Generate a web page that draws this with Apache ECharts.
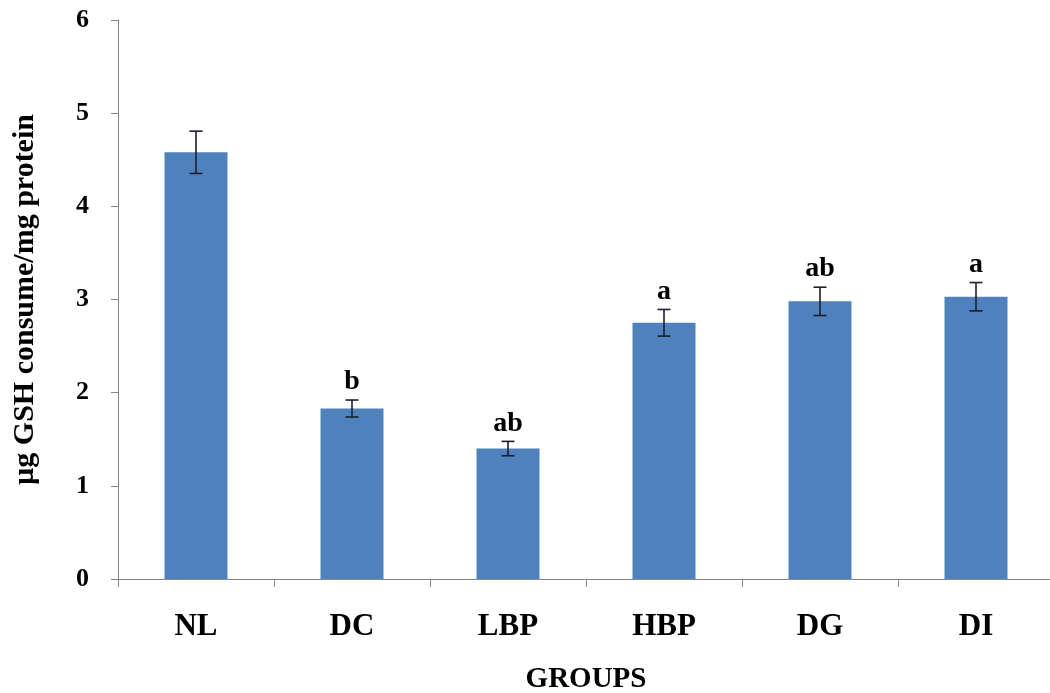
<!DOCTYPE html>
<html>
<head>
<meta charset="utf-8">
<script src="https://cdn.jsdelivr.net/npm/echarts@6/dist/echarts.min.js"></script>
<style>html,body{margin:0;padding:0;background:#fff}#c{width:1050px;height:693px}</style>
</head>
<body>
<div id="c"></div>
<script>
var categories = ['NL', 'DC', 'LBP', 'HBP', 'DG', 'DI'];
var values = [4.58, 1.83, 1.40, 2.75, 2.98, 3.03];
var errors = [0.227, 0.091, 0.077, 0.143, 0.152, 0.152];
var letters = ['', 'b', 'ab', 'a', 'ab', 'a'];
var yTicks = [0, 1, 2, 3, 4, 5, 6];

var FONT = '"Liberation Serif", "Times New Roman", serif';
var chart = echarts.init(document.getElementById('c'));
var errData = categories.map(function (c, i) { return [i, values[i], errors[i]]; });

chart.setOption({
  animation: false,
  backgroundColor: '#ffffff',
  grid: { left: 118, right: -4, top: 20, bottom: 114, containLabel: false, outerBoundsMode: 'none' },
  xAxis: {
    type: 'category',
    data: categories,
    boundaryGap: true,
    name: 'GROUPS',
    nameLocation: 'middle',
    nameGap: 86,
    nameTextStyle: { fontFamily: FONT, fontWeight: 'bold', fontSize: 29, color: '#000' },
    axisLine: { lineStyle: { color: '#868686', width: 1 } },
    axisTick: { show: true, alignWithLabel: false, length: 8, lineStyle: { color: '#868686' } },
    axisLabel: { fontFamily: FONT, fontWeight: 'bold', fontSize: 31, color: '#000', margin: 32 }
  },
  yAxis: {
    type: 'value',
    min: yTicks[0],
    max: yTicks[yTicks.length - 1],
    interval: 1,
    name: 'µg GSH consume/mg protein',
    nameLocation: 'middle',
    nameGap: 78,
    nameRotate: 90,
    nameTextStyle: { fontFamily: FONT, fontWeight: 'bold', fontSize: 30, color: '#000' },
    axisLine: { show: true, lineStyle: { color: '#868686', width: 1 } },
    axisTick: { show: true, length: 7, lineStyle: { color: '#868686' } },
    splitLine: { show: false },
    axisLabel: { fontFamily: FONT, fontWeight: 'bold', fontSize: 26, color: '#000', margin: 29 }
  },
  series: [
    {
      type: 'bar',
      data: values,
      barWidth: 63,
      itemStyle: { color: '#4F81BD' }
    },
    {
      type: 'custom',
      data: errData,
      z: 10,
      renderItem: function (params, api) {
        var i = api.value(0), v = api.value(1), e = api.value(2);
        var top = api.coord([i, v + e]);
        var bot = api.coord([i, v - e]);
        var x = top[0], hw = 6.5;
        var st = { stroke: '#1a1f2e', lineWidth: 1.6 };
        var children = [
          { type: 'line', shape: { x1: x, y1: top[1], x2: x, y2: bot[1] }, style: st },
          { type: 'line', shape: { x1: x - hw, y1: top[1], x2: x + hw, y2: top[1] }, style: st },
          { type: 'line', shape: { x1: x - hw, y1: bot[1], x2: x + hw, y2: bot[1] }, style: st }
        ];
        var lab = letters[params.dataIndex];
        if (lab) {
          children.push({
            type: 'text',
            style: {
              x: x, y: top[1] - 4, text: lab,
              textAlign: 'center', textVerticalAlign: 'bottom',
              fontFamily: FONT, fontWeight: 'bold', fontSize: 28, fill: '#000'
            }
          });
        }
        return { type: 'group', children: children };
      }
    }
  ]
});
</script>
</body>
</html>
